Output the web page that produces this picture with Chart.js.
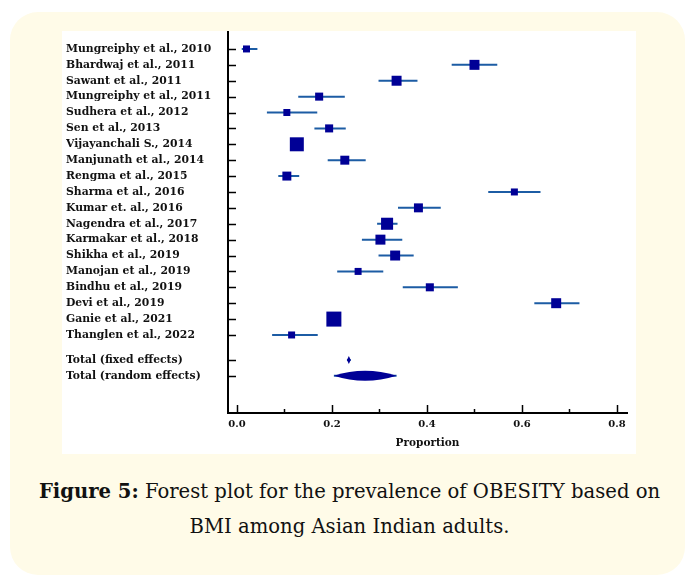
<!DOCTYPE html>
<html>
<head>
<meta charset="utf-8">
<script src="https://cdn.jsdelivr.net/npm/chart.js@4.4.1/dist/chart.umd.min.js"></script>
<style>
  html, body { margin: 0; padding: 0; background: #ffffff; width: 685px; height: 575px; overflow: hidden; }
  #frame { position: absolute; left: 10px; top: 12px; width: 675px; height: 563px; background: #fffbe8; border-radius: 28px; }
  #panel { position: absolute; left: 62px; top: 31px; width: 574px; height: 423px; background: #ffffff; }
  #panel canvas { display: block; }
  #caption { position: absolute; left: 12px; top: 474px; width: 675px; text-align: center;
             font-family: "DejaVu Serif", serif; font-size: 19.6px; line-height: 35px; color: #111111; }
  #caption b { font-weight: bold; }
</style>
</head>
<body>
<div id="frame"></div>
<div id="panel"><canvas id="forest" width="574" height="423"></canvas></div>
<div id="caption"><b>Figure 5:</b> Forest plot for the prevalence of OBESITY based on<br>BMI among Asian Indian adults.</div>
<script>
// Individual studies: proportion with 95% CI and relative weight (%)
const studies = [
  'Mungreiphy et al., 2010', 'Bhardwaj et al., 2011', 'Sawant et al., 2011',
  'Mungreiphy et al., 2011', 'Sudhera et al., 2012', 'Sen et al., 2013',
  'Vijayanchali S., 2014', 'Manjunath et al., 2014', 'Rengma et al., 2015',
  'Sharma et al., 2016', 'Kumar et. al., 2016', 'Nagendra et al., 2017',
  'Karmakar et al., 2018', 'Shikha et al., 2019', 'Manojan et al., 2019',
  'Bindhu et al., 2019', 'Devi et al., 2019', 'Ganie et al., 2021',
  'Thanglen et al., 2022'
];
const proportion = [0.020, 0.500, 0.336, 0.173, 0.105, 0.194, 0.126, 0.227, 0.105,
                    0.584, 0.382, 0.316, 0.302, 0.333, 0.255, 0.406, 0.672, 0.204, 0.115];
const ciLower    = [0.010, 0.452, 0.298, 0.129, 0.063, 0.163, 0.118, 0.191, 0.087,
                    0.529, 0.339, 0.295, 0.263, 0.298, 0.211, 0.349, 0.626, 0.196, 0.074];
const ciUpper    = [0.043, 0.548, 0.380, 0.227, 0.169, 0.229, 0.134, 0.271, 0.131,
                    0.639, 0.429, 0.338, 0.348, 0.372, 0.308, 0.465, 0.721, 0.212, 0.170];
const weights    = [2.8, 5.7, 5.7, 3.7, 2.8, 3.7, 11.2, 4.6, 4.6,
                    2.8, 4.6, 8.3, 5.7, 5.7, 2.8, 3.7, 5.7, 12.9, 2.8];

// Pooled estimates
const pooledLabels   = ['Total (fixed effects)', 'Total (random effects)'];
const pooledEstimate = [0.2355, 0.2695];
const pooledLower    = [0.2315, 0.2040];
const pooledUpper    = [0.2395, 0.3360];

// Proportion axis ticks
const xTicks = [0.0, 0.1, 0.2, 0.3, 0.4, 0.5, 0.6, 0.7, 0.8];
const xTickLabels = ['0.0', '', '0.2', '', '0.4', '', '0.6', '', '0.8'];

const SQUARE = '#000096';
const WHISKER = '#1c5ca4';
const INK = '#111111';
const LABEL_FONT = 'DejaVu Serif';

// Plot box inside the canvas (pixels)
const PLOT = { left: 166, top: 0, right: 565, bottom: 382, labelLeft: 4 };

// Row layout: one row per study, pooled rows after a small gap
const studyRows = studies.map((_, i) => i);
const pooledRows = pooledLabels.map((_, k) => studies.length + 0.57 + k);
const allRows = studyRows.concat(pooledRows);
const allLabels = studies.concat(pooledLabels);

// Whiskers as one line dataset broken by null gaps
const whiskerData = [];
studies.forEach((_, i) => {
  whiskerData.push({ x: ciLower[i], y: studyRows[i] });
  whiskerData.push({ x: ciUpper[i], y: studyRows[i] });
  whiskerData.push({ x: null, y: null });
});
pooledLabels.forEach((_, k) => {
  whiskerData.push({ x: pooledLower[k], y: pooledRows[k] });
  whiskerData.push({ x: pooledUpper[k], y: pooledRows[k] });
  whiskerData.push({ x: null, y: null });
});

const squareData = studies.map((_, i) => ({ x: proportion[i], y: studyRows[i] }));
// square side grows with sqrt(weight); rect point side = radius * sqrt(2)
const squareRadius = weights.map(w => 4.18 * Math.sqrt(w) / Math.SQRT2);

// Pin the plot box so the axes sit at fixed places in the panel
const fixedArea = {
  id: 'fixedArea',
  afterLayout(chart) {
    const a = chart.chartArea;
    a.left = PLOT.left; a.top = PLOT.top; a.right = PLOT.right; a.bottom = PLOT.bottom;
    a.width = a.right - a.left; a.height = a.bottom - a.top;
    const { x, y } = chart.scales;
    y.left = PLOT.labelLeft; y.right = a.left; y.width = a.left - PLOT.labelLeft;
    y.top = a.top; y.bottom = a.bottom; y.height = a.height;
    x.left = a.left; x.right = a.right; x.width = a.width;
    x.top = a.bottom; x.bottom = chart.height; x.height = chart.height - a.bottom;
    x.configure();
    y.configure();
  }
};

// Pooled summary shapes and inward tick marks
const forestExtras = {
  id: 'forestExtras',
  afterDatasetsDraw(chart) {
    const { ctx, chartArea, scales: { x, y } } = chart;
    ctx.save();
    ctx.fillStyle = SQUARE;
    pooledLabels.forEach((_, k) => {
      const yc = y.getPixelForValue(pooledRows[k]);
      const xl = x.getPixelForValue(pooledLower[k]);
      const xr = x.getPixelForValue(pooledUpper[k]);
      const xm = x.getPixelForValue(pooledEstimate[k]);
      ctx.beginPath();
      if (k === 0) {
        // fixed effects: small diamond
        ctx.moveTo(xl, yc);
        ctx.lineTo(xm, yc - 4);
        ctx.lineTo(xr, yc);
        ctx.lineTo(xm, yc + 4);
      } else {
        // random effects: lens over the interval
        ctx.moveTo(xl, yc);
        ctx.quadraticCurveTo(xm, yc - 10, xr, yc);
        ctx.quadraticCurveTo(xm, yc + 10, xl, yc);
      }
      ctx.closePath();
      ctx.fill();
    });
    ctx.strokeStyle = '#000000';
    ctx.lineWidth = 1.5;
    // row ticks on the left axis, pointing into the plot
    allRows.forEach(r => {
      const py = Math.round(y.getPixelForValue(r)) + 0.5;
      ctx.beginPath();
      ctx.moveTo(chartArea.left, py);
      ctx.lineTo(chartArea.left + 8, py);
      ctx.stroke();
    });
    // major / minor ticks on the proportion axis, pointing up
    xTicks.forEach((v, i) => {
      const px = Math.round(x.getPixelForValue(v)) + 0.5;
      const len = xTickLabels[i] ? 8 : 4;
      ctx.beginPath();
      ctx.moveTo(px, chartArea.bottom);
      ctx.lineTo(px, chartArea.bottom - len);
      ctx.stroke();
    });
    ctx.restore();
  }
};

new Chart(document.getElementById('forest'), {
  type: 'scatter',
  data: {
    datasets: [
      {
        type: 'line',
        data: whiskerData,
        borderColor: WHISKER,
        borderWidth: 2,
        pointRadius: 0,
        spanGaps: false,
        fill: false,
        order: 2
      },
      {
        data: squareData,
        pointStyle: 'rect',
        pointRadius: squareRadius,
        backgroundColor: SQUARE,
        borderWidth: 0,
        order: 1
      }
    ]
  },
  options: {
    responsive: false,
    animation: false,
    events: [],
    layout: { padding: { left: 4, right: 9, top: 0, bottom: 0 } },
    plugins: { legend: { display: false }, tooltip: { enabled: false } },
    scales: {
      x: {
        type: 'linear',
        min: -0.0189,
        max: 0.8211,
        grid: { display: false, drawTicks: false },
        border: { display: true, color: '#000000', width: 2 },
        afterBuildTicks: s => { s.ticks = xTicks.map(v => ({ value: v })); },
        afterFit: s => { s.height = 41; },
        ticks: {
          autoSkip: false,
          maxRotation: 0,
          padding: 5,
          color: INK,
          font: { family: LABEL_FONT, size: 10, weight: 'bold' },
          callback: (v, i) => xTickLabels[i]
        },
        title: {
          display: true,
          text: 'Proportion',
          color: INK,
          padding: { top: 0, bottom: 4 },
          font: { family: LABEL_FONT, size: 10.5, weight: 'bold' }
        }
      },
      y: {
        type: 'linear',
        reverse: true,
        min: -1.13,
        max: 22.91,
        grid: { display: false, drawTicks: false },
        border: { display: true, color: '#000000', width: 2 },
        afterBuildTicks: s => { s.ticks = allRows.map(v => ({ value: v })); },
        afterFit: s => { s.width = 162; },
        ticks: {
          autoSkip: false,
          crossAlign: 'far',
          color: INK,
          font: { family: LABEL_FONT, size: 10.8, weight: 'bold' },
          callback: (v, i) => allLabels[i]
        }
      }
    }
  },
  plugins: [fixedArea, forestExtras]
});
</script>
</body>
</html>
